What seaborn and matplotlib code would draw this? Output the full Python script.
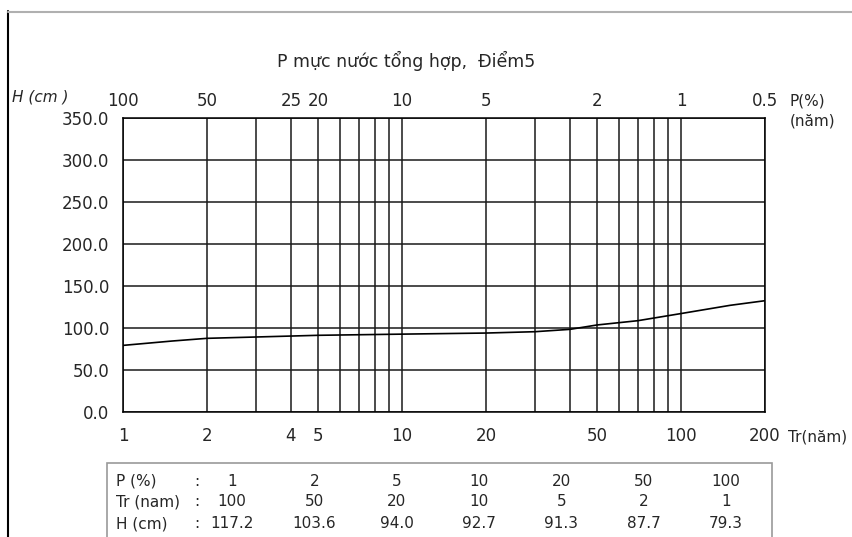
import matplotlib
matplotlib.use('Agg')
import matplotlib.pyplot as plt
import seaborn as sns
from matplotlib.lines import Line2D
from matplotlib.patches import Rectangle
from matplotlib.ticker import NullLocator

# curve (Tr in years, H in cm)
curve_tr = [1, 1.5, 2, 5, 10, 20, 30, 40, 50, 70, 100, 150, 200]
curve_h = [79.3, 84.5, 87.7, 91.3, 92.7, 94.0, 95.6, 98.4, 103.6, 108.7, 117.2, 127.0, 132.5]

# table below the chart
p_pct = ['1', '2', '5', '10', '20', '50', '100']
tr_years = ['100', '50', '20', '10', '5', '2', '1']
h_cm = ['117.2', '103.6', '94.0', '92.7', '91.3', '87.7', '79.3']

# axis ticks
grid_tr = [1, 2, 3, 4, 5, 6, 7, 8, 9, 10, 20, 30, 40, 50, 60, 70, 80, 90, 100, 200]
bottom_labels = {1: '1', 2: '2', 4: '4', 5: '5', 10: '10', 20: '20', 50: '50', 100: '100', 200: '200'}
top_tr = [1, 2, 4, 5, 10, 20, 50, 100, 200]
top_labels = ['100', '50', '25', '20', '10', '5', '2', '1', '0.5']
y_ticks = [0, 50, 100, 150, 200, 250, 300, 350]

sns.set_style('white')
plt.rcParams['font.family'] = ['DejaVu Sans']

W, H = 853, 537
fig = plt.figure(figsize=(W / 100, H / 100), dpi=100)


def fx(px):
    return px / W


def fy(py):
    return 1 - py / H


ax = fig.add_axes([fx(123), fy(412), fx(765 - 123), (412 - 118) / H])
sns.lineplot(x=curve_tr, y=curve_h, ax=ax, color='black', linewidth=1.2)
ax.set_xscale('log')
ax.set_xlim(1, 200)
ax.set_ylim(0, 350)

ax.set_xticks(grid_tr)
ax.set_xticklabels([bottom_labels.get(t, '') for t in grid_tr], fontsize=12)
ax.set_xticks([1, 10, 100], minor=True)
ax.set_xticklabels(['', '', ''], minor=True)
ax.tick_params(axis='x', which='major', length=0, pad=11)
ax.tick_params(axis='x', which='minor', length=5, width=1, color='black', direction='out')
ax.set_yticks(y_ticks)
ax.set_yticklabels([f'{v:.1f}' for v in y_ticks], fontsize=12)
ax.tick_params(axis='y', length=5, width=1, color='black', direction='out', pad=5)
ax.grid(True, which='major', color='#1a1a1a', linewidth=1.1)
for s in ax.spines.values():
    s.set_color('black')
    s.set_linewidth(1.1)
ax.set_xlabel('')
ax.set_ylabel('')

ax2 = ax.twiny()
ax2.set_xscale('log')
ax2.set_xlim(1, 200)
ax2.xaxis.set_minor_locator(NullLocator())
ax2.set_xticks(top_tr)
ax2.set_xticklabels(top_labels, fontsize=12)
ax2.tick_params(axis='x', length=0, pad=5.5)
for s in ax2.spines.values():
    s.set_visible(False)

# texts around the chart
fig.text(fx(406), fy(61), 'P mực nước tổng hợp,  Điểm5', ha='center', va='center', fontsize=12.5)
fig.text(fx(12), fy(97), 'H (cm )', ha='left', va='center', fontsize=11, style='italic')
fig.text(fx(790), fy(101), 'P(%)', ha='left', va='center', fontsize=11)
fig.text(fx(790), fy(121), '(năm)', ha='left', va='center', fontsize=11)
fig.text(fx(788), fy(437), 'Tr(năm)', ha='left', va='center', fontsize=11)

# frame lines of the screenshot
fig.add_artist(Line2D([fx(8), fx(8)], [fy(11), 0], color='black', linewidth=1.5))
fig.add_artist(Line2D([fx(8), fx(852)], [fy(11.5), fy(11.5)], color='#b0b0b0', linewidth=1.5))

# table box
fig.add_artist(Rectangle((fx(107), fy(545)), fx(772 - 107), (545 - 463) / H,
                         fill=False, edgecolor='#9a9a9a', linewidth=1.2))
row_y = [481, 502, 524]
row_names = ['P (%)', 'Tr (nam)', 'H (cm)']
rows = [p_pct, tr_years, h_cm]
for yy, name, vals in zip(row_y, row_names, rows):
    fig.text(fx(116), fy(yy), name, ha='left', va='center', fontsize=11)
    fig.text(fx(197), fy(yy), ':', ha='center', va='center', fontsize=11)
    for i, v in enumerate(vals):
        fig.text(fx(232 + i * 82.3), fy(yy), v, ha='center', va='center', fontsize=11)

plt.savefig('out.png', dpi=100)
